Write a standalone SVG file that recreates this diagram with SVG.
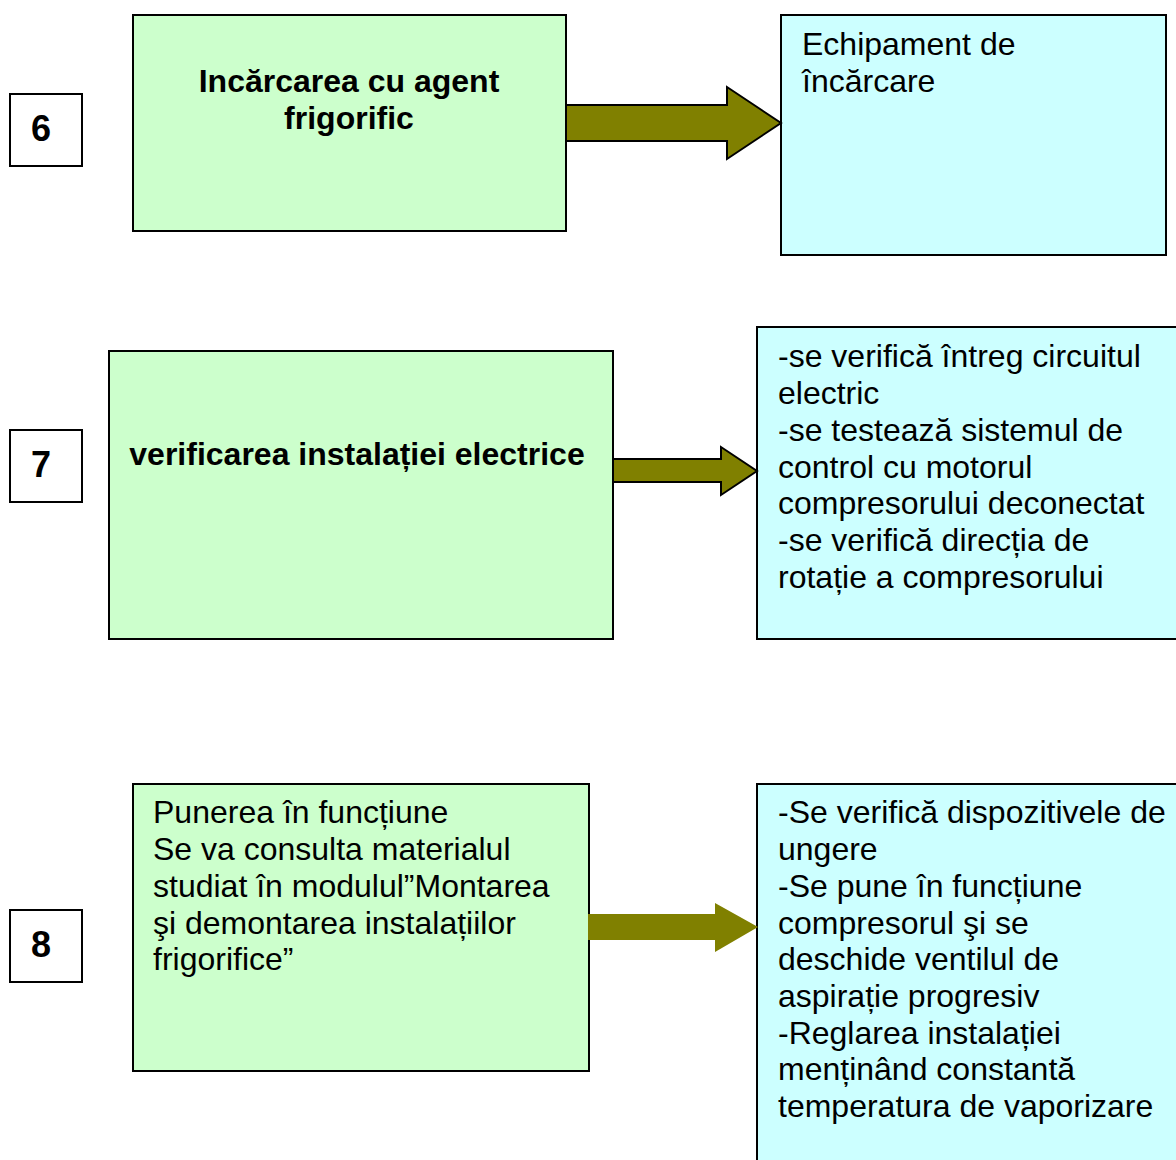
<svg xmlns="http://www.w3.org/2000/svg" width="1176" height="1160" viewBox="0 0 1176 1160">
<style>
text{font-family:"Liberation Sans",Arial,sans-serif;font-size:32px;fill:#000}
.b{font-weight:bold}
.num{font-weight:bold;font-size:36px;text-anchor:middle}
.g{fill:#ccffcc;stroke:#000;stroke-width:2}
.c{fill:#ccffff;stroke:#000;stroke-width:2}
.n{fill:#fff;stroke:#000;stroke-width:2}
.arr{fill:#808000;stroke:#000;stroke-width:2;stroke-linejoin:miter}
</style>
<rect width="1176" height="1160" fill="#fff"/>
<g id="n6"><rect class="n" x="10" y="94" width="72" height="72"/><text class="num" x="41" y="141">6</text></g>
<g id="n7"><rect class="n" x="10" y="430" width="72" height="72"/><text class="num" x="41" y="477">7</text></g>
<g id="n8"><rect class="n" x="10" y="910" width="72" height="72"/><text class="num" x="41" y="957">8</text></g>
<g id="step6"><rect class="g" x="133" y="15" width="433" height="216"/>
<text class="b" text-anchor="middle" x="349" y="92">Incărcarea cu agent</text>
<text class="b" text-anchor="middle" x="349" y="129">frigorific</text></g>
<g id="res6"><rect class="c" x="781" y="15" width="385" height="240"/>
<text x="802" y="55">Echipament de</text>
<text x="802" y="92">încărcare</text></g>
<g id="step7"><rect class="g" x="109" y="351" width="504" height="288"/>
<text class="b" text-anchor="middle" x="357" y="465">verificarea instalației electrice</text></g>
<g id="res7"><rect class="c" x="757" y="327" width="425" height="312"/>
<text x="778" y="367">-se verifică întreg circuitul</text>
<text x="778" y="404">electric</text>
<text x="778" y="441">-se testează sistemul de</text>
<text x="778" y="478">control cu motorul</text>
<text x="778" y="514">compresorului deconectat</text>
<text x="778" y="551">-se verifică direcția de</text>
<text x="778" y="588">rotație a compresorului</text></g>
<g id="step8"><rect class="g" x="133" y="784" width="456" height="287"/>
<text x="153" y="823">Punerea în funcțiune</text>
<text x="153" y="860">Se va consulta materialul</text>
<text x="153" y="897">studiat în modulul”Montarea</text>
<text x="153" y="934">şi demontarea instalațiilor</text>
<text x="153" y="970">frigorifice”</text></g>
<g id="res8"><rect class="c" x="757" y="784" width="425" height="390"/>
<text x="778" y="823">-Se verifică dispozitivele de</text>
<text x="778" y="860">ungere</text>
<text x="778" y="897">-Se pune în funcțiune</text>
<text x="778" y="934">compresorul  şi se</text>
<text x="778" y="970">deschide ventilul de</text>
<text x="778" y="1007">aspirație progresiv</text>
<text x="778" y="1044">-Reglarea instalației</text>
<text x="778" y="1080">menținând constantă</text>
<text x="778" y="1117">temperatura de vaporizare</text></g>
<g id="connectors">
<polygon class="arr" points="566,105 727,105 727,87 781,123 727,159 727,141 566,141"/>
<polygon class="arr" points="613,459 721,459 721,447 757,471 721,495 721,482 613,482"/>
<polygon fill="#808000" points="588,914 715,914 715,903 758,927 715,952 715,940 588,940"/>
</g>
</svg>
